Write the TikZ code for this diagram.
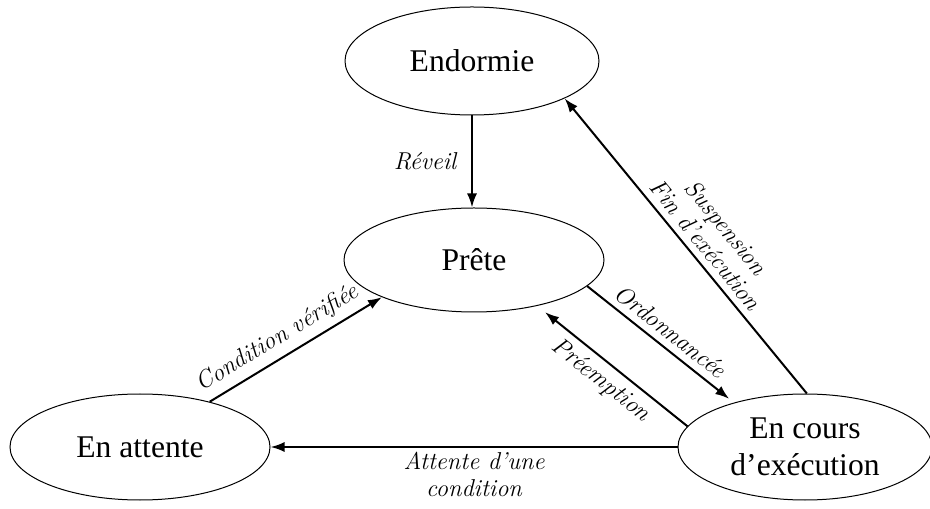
\documentclass[tikz,border=0pt]{standalone}
\usepackage{fontspec}
\setmainfont{Liberation Serif}
\usetikzlibrary{arrows.meta,shapes.geometric}
\tikzset{>={Latex[width=5pt,length=7pt]}}
\tikzset{
  etat/.style={draw,ellipse,line width=0.5pt,inner sep=0pt,align=center,font=\fontsize{15.8}{18.5}\selectfont},
  trans/.style={->,line width=1pt},
  lbl/.style={font=\fontfamily{lmr}\fontsize{12.2}{13.5}\selectfont\itshape,align=center}
}

\begin{document}
\begin{tikzpicture}[x=0.5pt,y=0.5pt]
		% border
		\useasboundingbox (0,0) rectangle (930,508);
		% states
		\node[etat,minimum width=127pt,minimum height=54pt] (endormie) at (472,447) {Endormie};
		\node[etat,minimum width=130pt,minimum height=52pt] (prete)    at (474,248) {Prête};
		\node[etat,minimum width=130pt,minimum height=53pt] (attente)  at (140,61)  {En attente};
		\node[etat,minimum width=127pt,minimum height=53pt] (encours)  at (805,61)  {En cours\\d’exécution};
		% transitions
		\draw[trans] (endormie.south) -- node[lbl,left,xshift=-4pt] {Réveil} (endormie.south |- prete.north);
		\draw[trans] (encours.88) -- node[lbl,sloped,above,pos=.47] {Suspension\\Fin d’exécution} (endormie.-22);
		\draw[trans,shorten >=3pt] (prete.-13) -- node[lbl,sloped,above] {Ordonnancée} (encours.148);
		\draw[trans,shorten >=5pt] (encours.170) -- node[lbl,sloped,below] {Préemption} (prete.-36);
		\draw[trans] (attente.33) -- node[lbl,sloped,above,pos=.45] {Condition vérifiée} (prete.202);
		\draw[trans] (encours.west) -- node[lbl,below,inner sep=2pt] {Attente d’une\\condition} (attente.east);
	\end{tikzpicture}
\end{document}
